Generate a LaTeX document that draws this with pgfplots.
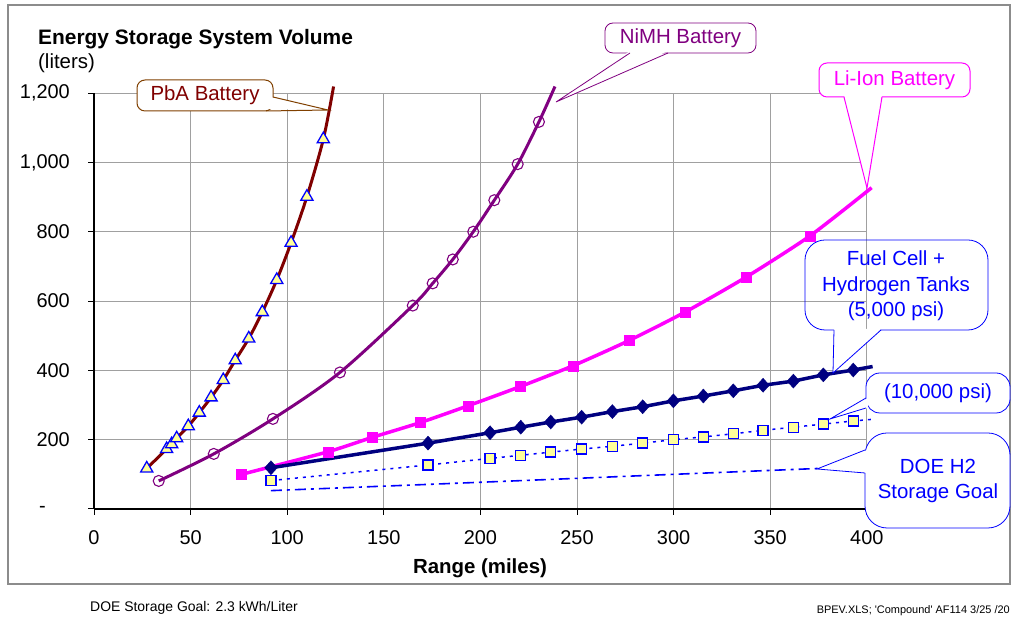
\documentclass[border=0pt]{standalone}
\usepackage{fontspec}
\setmainfont{Liberation Sans}
\usepackage{pgfplots}
\pgfplotsset{compat=1.18}
\definecolor{pbared}{RGB}{128,0,0}
\definecolor{pbaborder}{RGB}{128,64,0}
\definecolor{nimh}{RGB}{128,0,128}
\definecolor{liion}{RGB}{255,0,255}
\definecolor{fuelcell}{RGB}{0,0,128}
\definecolor{h2blue}{RGB}{0,0,255}
\definecolor{yellowfill}{RGB}{255,255,153}
\definecolor{gridgray}{RGB}{160,160,160}
\definecolor{framegray}{RGB}{140,140,140}
\newcommand\ticfont{\fontsize{20}{24}\selectfont}
\newcommand\callfont{\fontsize{20.5}{25.7}\selectfont}
\begin{document}
\begin{tikzpicture}
\useasboundingbox (0,0) rectangle (1011bp,617bp);
\fill[white] (0,0) rectangle (1011bp,617bp);
\draw[framegray, line width=1.5bp] (8bp,33bp) rectangle (1010bp,612bp);
\begin{axis}[
  at={(94bp,108bp)}, anchor=south west,
  scale only axis, width=772.8bp, height=415.9bp,
  xmin=0, xmax=400, ymin=0, ymax=1200,
  xtick={0,50,...,400}, ytick={0,200,...,1200},
  yticklabels={{-\rule{24bp}{0pt}},200,400,600,800,{1,000},{1,200}},
  grid=major, major grid style={gridgray, line width=0.8bp},
  axis x line*=bottom, axis y line*=left,
  axis line style={black, line width=1.2bp},
  tick align=outside, major tick length=6bp,
  tick style={black, line width=1bp},
  /pgf/number format/assume math mode=true,
  x tick label style={font=\ticfont, inner sep=0pt, yshift=-15bp},
  y tick label style={font=\ticfont, inner sep=0pt, xshift=-18bp},
  clip=false,
]
% PbA battery
\addplot[pbared, line width=3bp, smooth, tension=0.5, no markers] coordinates {
(27.3,117)(37.6,173)(40.2,187)(42.8,204)(48.8,239)(54.5,278)(60.6,322)(66.9,372)(73.1,429)(80.1,492)(87.1,568)(94.6,661)(102.0,768)(110.2,901)(118.7,1067)(124.0,1219)};
\addplot[only marks, mark=triangle*, mark size=7bp, mark options={draw=h2blue, fill=yellowfill, line width=1.3bp}] coordinates {
(27.3,117)(37.6,173)(40.2,187)(42.8,204)(48.8,239)(54.5,278)(60.6,322)(66.9,372)(73.1,429)(80.1,492)(87.1,568)(94.6,661)(102.0,768)(110.2,901)(118.7,1067)};
% NiMH battery
\addplot[nimh, line width=3bp, smooth, tension=0.5, no markers] coordinates {
(33.5,81)(62.0,159)(92.6,260)(127.3,394)(165.0,587)(175.3,651)(185.7,720)(196.3,800)(207.2,891)(219.3,995)(230.3,1117)(238.6,1219)};
\addplot[only marks, mark=o, mark size=5.5bp, mark options={draw=nimh, line width=1.1bp}] coordinates {
(33.5,81)(62.0,159)(92.6,260)(127.3,394)(165.0,587)(175.3,651)(185.7,720)(196.3,800)(207.2,891)(219.3,995)(230.3,1117)};
% Li-Ion battery
\addplot[liion, line width=3.5bp, smooth, tension=0.4, no markers] coordinates {
(76.4,100)(121.0,165)(144.2,207)(168.7,249)(193.7,298)(220.5,353)(247.8,413)(276.9,486)(306.2,569)(337.8,670)(370.6,788)(402.5,927)};
\addplot[only marks, mark=square*, mark size=5bp, mark options={draw=liion, fill=liion}] coordinates {
(76.4,100)(121.0,165)(144.2,207)(168.7,249)(193.7,298)(220.5,353)(247.8,413)(276.9,486)(306.2,569)(337.8,670)(370.6,788)};
% Fuel cell 5,000 psi
\addplot[fuelcell, line width=3.5bp, no markers] coordinates {
(91.6,119)(172.9,190)(205.0,220)(220.9,236)(236.4,251)(252.4,265)(268.3,281)(284.0,295)(299.9,312)(315.4,326)(330.9,341)(346.3,357)(362.0,369)(377.5,387)(393.0,401)(403,411)};
\addplot[only marks, mark=diamond*, mark size=7bp, mark options={draw=fuelcell, fill=fuelcell, xscale=1.2}] coordinates {
(91.6,119)(172.9,190)(205.0,220)(220.9,236)(236.4,251)(252.4,265)(268.3,281)(284.0,295)(299.9,312)(315.4,326)(330.9,341)(346.3,357)(362.0,369)(377.5,387)(393.0,401)};
% Fuel cell 10,000 psi
\addplot[h2blue, line width=1.5bp, dash pattern=on 3bp off 5bp, no markers] coordinates {
(91.6,82)(172.9,127)(205.0,146)(220.9,155)(236.4,164)(252.4,173)(268.3,181)(284.0,190)(299.9,200)(315.4,208)(330.9,217)(346.3,227)(362.0,236)(377.5,245)(393.0,254)(403.4,259)};
\addplot[only marks, mark=square*, mark size=5bp, mark options={draw=h2blue, fill=yellowfill, line width=1.4bp}] coordinates {
(91.6,82)(172.9,127)(205.0,146)(220.9,155)(236.4,164)(252.4,173)(268.3,181)(284.0,190)(299.9,200)(315.4,208)(330.9,217)(346.3,227)(362.0,236)(377.5,245)(393.0,254)};
% DOE goal
\addplot[h2blue, line width=1.6bp, dash pattern=on 11bp off 5bp on 3bp off 5bp, no markers] coordinates {
(91.6,53)(172.9,71)(252.4,89)(299.9,100)(375,117)};
\end{axis}
\begin{scope}[x=1bp,y=-1bp,shift={(0bp,617bp)}]
% titles
\node[anchor=base west, inner sep=0pt, font=\bfseries\fontsize{21}{25}\selectfont] at (38,45) {Energy Storage System Volume};
\node[anchor=base west, inner sep=0pt, font=\fontsize{20.5}{25}\selectfont] at (38,68.3) {(liters)};
\node[anchor=base, inner sep=0pt, font=\bfseries\fontsize{20.5}{25}\selectfont] at (480,574) {Range (miles)};
\node[anchor=base west, inner sep=0pt, font=\fontsize{14}{16}\selectfont] at (90,611.7) {DOE Storage Goal: 2.3 kWh/Liter};
\node[anchor=base east, inner sep=0pt, font=\fontsize{11}{13}\selectfont] at (1010,613.3) {BPEV.XLS; \textquotesingle Compound\textquotesingle\ AF114 3/25 /20};
% PbA callout
\draw[pbaborder, line width=1bp, fill=white, rounded corners=8bp] (137,80) rectangle (273,111);
\fill[white] (271,97) -- (328,110) -- (266,109) -- cycle;
\draw[pbaborder, line width=1bp] (273,97) -- (328,110) -- (266,111);
\node[text=pbared, font=\callfont, inner sep=0pt] at (205,95.5) {PbA Battery};
% NiMH callout
\draw[nimh, line width=0.8bp, fill=white, rounded corners=8bp] (605,23) rectangle (756,53);
\fill[white] (630,51) -- (556,102) -- (668,51) -- cycle;
\draw[nimh, line width=0.8bp] (630,53) -- (556,102) -- (668,53);
\node[text=nimh, font=\callfont, inner sep=0pt] at (680.5,38) {NiMH Battery};
% Li-Ion callout
\draw[liion, line width=1bp, fill=white, rounded corners=8bp] (819,63) rectangle (970,97);
\fill[white] (844,95) -- (867,188) -- (882,95) -- cycle;
\draw[liion, line width=1bp] (844,97) -- (867,188) -- (882,97);
\node[text=liion, font=\callfont, inner sep=0pt] at (894.5,80) {Li-Ion Battery};
% Fuel cell callout
\draw[h2blue, line width=0.8bp, rounded corners=20bp] (805,240) rectangle (988,330);
\fill[white] (834,329) -- (833,373) -- (881,329) -- cycle;
\draw[h2blue, line width=0.8bp] (834,330) -- (833,373) -- (881,330);
\node[text=h2blue, font=\callfont, inner sep=0pt, align=center] at (896,286) {Fuel Cell +\\Hydrogen Tanks\\(5,000 psi)};
% 10,000 psi callout
\draw[h2blue, line width=0.8bp, fill=white, rounded corners=14bp] (866,373) rectangle (1010,413);
\fill[white] (868,398) -- (830,419) -- (868,408) -- cycle;
\draw[h2blue, line width=0.8bp] (866,398) -- (830,419) -- (866,408);
\node[text=h2blue, font=\callfont, inner sep=0pt] at (938,393) {(10,000 psi)};
% DOE callout
\draw[h2blue, line width=0.8bp, fill=white, rounded corners=22bp] (865,433) rectangle (1010,528);
\fill[white] (867,450) -- (817,469) -- (867,473) -- cycle;
\draw[h2blue, line width=0.8bp] (865,450) -- (817,469) -- (865,473);
\node[text=h2blue, font=\callfont, inner sep=0pt, align=center] at (938,481) {DOE H2\\Storage Goal};
\end{scope}
\end{tikzpicture}
\end{document}
